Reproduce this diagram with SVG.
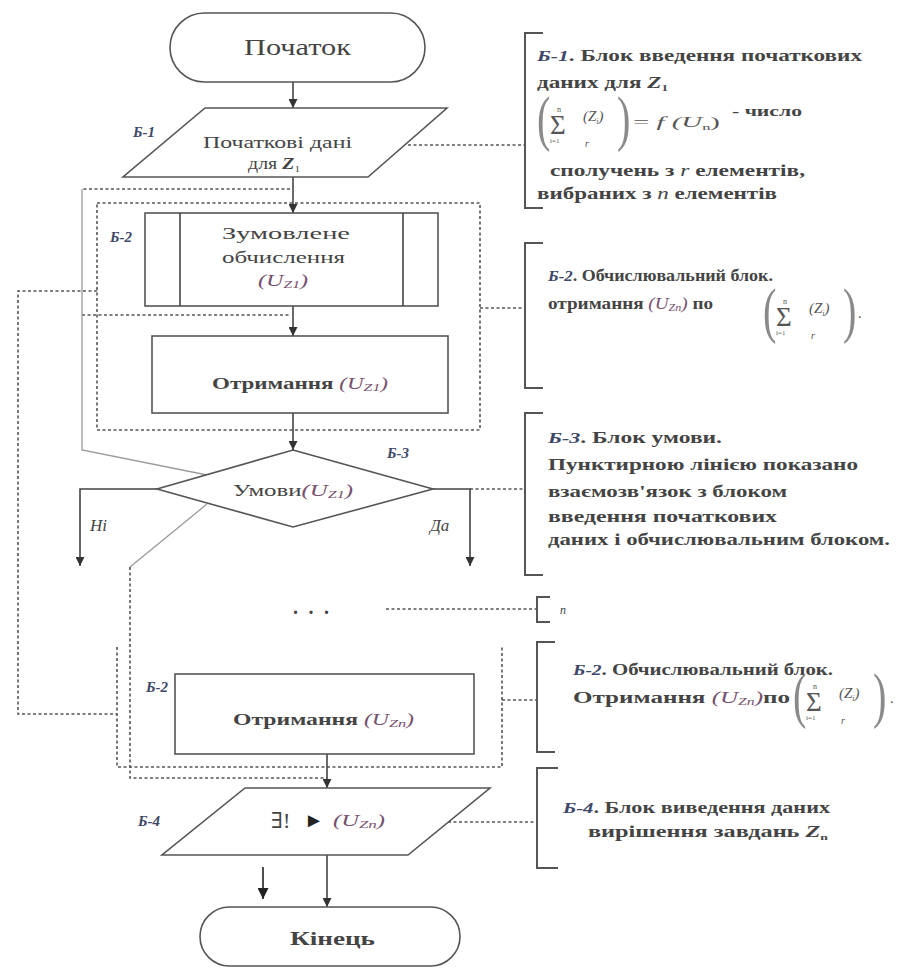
<svg xmlns="http://www.w3.org/2000/svg" xmlns:xlink="http://www.w3.org/1999/xlink" width="900" height="971" viewBox="0 0 900 971">
<style>
.t{font-family:"Liberation Serif","DejaVu Serif",serif;fill:#444}
.b{font-weight:bold}
.i{font-style:italic}
.lbl{font-family:"Liberation Serif","DejaVu Serif",serif;font-style:italic;font-weight:bold;fill:#3d4868;font-size:15px}
.u{fill:#76506e;font-style:italic}
.shape{fill:#fff;stroke:#555;stroke-width:1.6}
.ln{fill:none;stroke:#444;stroke-width:1.6}
.dash{fill:none;stroke:#555;stroke-width:1.6;stroke-dasharray:3 2.5}
.gray{fill:none;stroke:#9a9a9a;stroke-width:1.3}
.br{fill:none;stroke:#555;stroke-width:2}
</style>
<defs>
<marker id="ah" viewBox="0 0 10 10" refX="10" refY="5" markerWidth="9" markerHeight="9" markerUnits="userSpaceOnUse" orient="auto"><path d="M0,0 L10,5 L0,10 z" fill="#333"/></marker>
<marker id="ah2" viewBox="0 0 10 10" refX="10" refY="5" markerWidth="11" markerHeight="11" markerUnits="userSpaceOnUse" orient="auto"><path d="M0,0 L10,5 L0,10 z" fill="#222"/></marker>
<g id="frm" style="font-family:'Liberation Serif','DejaVu Serif',serif;fill:#555">
<text x="0" y="15" font-size="62" transform="scale(0.65,1)" style="fill:#8a8a8a">(</text>
<text x="13" y="10" font-size="27">Σ</text>
<text x="20" y="-12" font-size="8">n</text>
<text x="13" y="19" font-size="7">i=1</text>
<text x="46" y="-3" font-size="15" font-style="italic">(Z<tspan font-size="8" dy="3">i</tspan><tspan dy="-3">)</tspan></text>
<text x="48" y="23" font-size="10" font-style="italic">r</text>
<text x="123" y="15" font-size="62" transform="scale(0.65,1)" style="fill:#8a8a8a">)</text>
</g>
</defs>
<rect width="900" height="971" fill="#fff"/>

<g id="connectors">
<path class="dash" d="M290,189 H82"/>
<path class="dash" d="M82,315 H290"/>
<path class="gray" d="M82,189 V450 L207,475"/>
<path class="gray" d="M207,504 L130,567"/>
<path class="dash" d="M130,567 V778 H327"/>
<rect class="dash" x="97" y="203" width="383" height="227"/>
<path class="dash" d="M97,291 H18 V714 H117"/>
<path class="dash" d="M117,647 V767 H502 V647"/>
<path class="dash" d="M408,145 H525"/>
<path class="dash" d="M480,308 H525"/>
<path class="dash" d="M470,489 H525"/>
<path class="dash" d="M386,609 H537"/>
<path class="dash" d="M502,700 H537"/>
<path class="dash" d="M448,822 H537"/>
<line class="ln" x1="293" y1="82" x2="293" y2="108" marker-end="url(#ah)"/>
<line class="ln" x1="293" y1="177" x2="293" y2="213" marker-end="url(#ah)"/>
<line class="ln" x1="293" y1="306" x2="293" y2="336" marker-end="url(#ah)"/>
<line class="ln" x1="293" y1="413" x2="293" y2="450" marker-end="url(#ah)"/>
<polyline class="ln" points="157,489 80,489 80,566" marker-end="url(#ah)"/>
<polyline class="ln" points="433,489 470,489 470,566" marker-end="url(#ah)"/>
<line class="ln" x1="327" y1="754" x2="327" y2="788" marker-end="url(#ah)"/>
<line class="ln" x1="327" y1="855" x2="327" y2="907" marker-end="url(#ah)"/>
<line class="ln" x1="263" y1="867" x2="263" y2="899" marker-end="url(#ah2)" style="stroke:#222"/>
<text class="i t" x="90" y="531" font-size="17">Ні</text>
<text class="i t" x="430" y="531" font-size="17">Да</text>
<text class="t b" x="293" y="614" font-size="20" textLength="36" lengthAdjust="spacing">. . .</text>
</g>

<g id="start">
<rect class="shape" x="170" y="13" width="255" height="69" rx="34.5"/>
<text class="t" x="297.5" y="55" font-size="24" text-anchor="middle" textLength="107" lengthAdjust="spacingAndGlyphs">Початок</text>
</g>

<g id="b1">
<text class="lbl" x="133" y="137">Б-1</text>
<polygon class="shape" points="205,108 447,108 368,177 123,177"/>
<text class="t" x="277.5" y="148" font-size="16" text-anchor="middle" textLength="149" lengthAdjust="spacingAndGlyphs">Початкові дані</text>
<text class="t" x="274" y="169" font-size="16" text-anchor="middle" textLength="52" lengthAdjust="spacingAndGlyphs">для <tspan class="i b">Z</tspan><tspan font-size="9" dy="3">1</tspan></text>
</g>

<g id="b2">
<text class="lbl" x="110" y="242">Б-2</text>
<rect class="shape" x="145" y="213" width="293" height="93"/>
<line class="ln" x1="180" y1="213" x2="180" y2="306"/>
<line class="ln" x1="403" y1="213" x2="403" y2="306"/>
<text class="t" x="286" y="239" font-size="17" text-anchor="middle" textLength="128" lengthAdjust="spacingAndGlyphs">Зумовлене</text>
<text class="t" x="283.5" y="263" font-size="17" text-anchor="middle" textLength="123" lengthAdjust="spacingAndGlyphs">обчислення</text>
<text class="t u" x="283" y="286" font-size="17" text-anchor="middle" textLength="50" lengthAdjust="spacingAndGlyphs">(U<tspan font-size="11" dy="2">Z1</tspan><tspan dy="-2">)</tspan></text>
</g>

<g id="b2b">
<rect class="shape" x="152" y="336" width="296" height="77"/>
<text class="t" x="300" y="389" font-size="16" text-anchor="middle" textLength="176" lengthAdjust="spacingAndGlyphs"><tspan class="b">Отримання </tspan><tspan class="u">(U</tspan><tspan class="u" font-size="11" dy="2">Z1</tspan><tspan class="u" dy="-2">)</tspan></text>
</g>

<g id="b3">
<polygon class="shape" points="293,450 433,489 293,527 157,489"/>
<text class="lbl" x="387" y="458">Б-3</text>
<text class="t" x="293" y="496" font-size="17" text-anchor="middle" textLength="120" lengthAdjust="spacingAndGlyphs">Умови<tspan class="u">(U</tspan><tspan class="u" font-size="11" dy="2">Z1</tspan><tspan class="u" dy="-2">)</tspan></text>
</g>

<g id="b2n">
<text class="lbl" x="146" y="692">Б-2</text>
<rect class="shape" x="175" y="674" width="299" height="80"/>
<text class="t" x="323.5" y="725" font-size="16" text-anchor="middle" textLength="181" lengthAdjust="spacingAndGlyphs"><tspan class="b">Отримання </tspan><tspan class="u">(U</tspan><tspan class="u" font-size="11" dy="2">Zn</tspan><tspan class="u" dy="-2">)</tspan></text>
</g>

<g id="b4">
<text class="lbl" x="138" y="826">Б-4</text>
<polygon class="shape" points="245,788 490,788 408,855 162,855"/>
<text class="t" x="271" y="828" font-size="22">∃!</text>
<text class="t" x="304" y="827" font-size="20" style="fill:#222">►</text>
<text class="t u" x="333" y="826" font-size="16" textLength="52" lengthAdjust="spacingAndGlyphs">(U<tspan font-size="11" dy="2">Zn</tspan><tspan dy="-2">)</tspan></text>
</g>

<g id="end">
<rect class="shape" x="200" y="907" width="260" height="59" rx="29.5"/>
<text class="t b" x="332.5" y="945" font-size="18" text-anchor="middle" textLength="85" lengthAdjust="spacingAndGlyphs">Кінець</text>
</g>

<g id="note1">
<path class="br" d="M543,33 H525 V208 H543"/>
<text class="t b" x="537" y="61" font-size="16" textLength="325" lengthAdjust="spacingAndGlyphs"><tspan class="lbl">Б-1</tspan>. Блок введення початкових</text>
<text class="t b" x="537" y="88" font-size="16" textLength="131" lengthAdjust="spacingAndGlyphs">даних для <tspan class="i">Z</tspan><tspan font-size="9" dy="3">1</tspan></text>
<use xlink:href="#frm" href="#frm" transform="translate(537,124)"/>
<text class="t" x="633" y="127" font-size="14" textLength="87" lengthAdjust="spacingAndGlyphs" style="fill:#555">= <tspan class="i">f (U</tspan><tspan font-size="8" dy="3">n</tspan><tspan dy="-3">)</tspan></text>
<text class="t b" x="732" y="116" font-size="14" textLength="70" lengthAdjust="spacingAndGlyphs">- число</text>
<text class="t b" x="550" y="176" font-size="16" textLength="255" lengthAdjust="spacingAndGlyphs">сполучень з <tspan class="i" style="font-weight:normal">r</tspan> елементів,</text>
<text class="t b" x="537" y="199" font-size="16" textLength="240" lengthAdjust="spacingAndGlyphs">вибраних з <tspan class="i" style="font-weight:normal">n</tspan> елементів</text>
</g>

<g id="note2">
<path class="br" d="M543,243 H525 V388 H543"/>
<text class="t b" x="548" y="281" font-size="16" textLength="225" lengthAdjust="spacingAndGlyphs"><tspan class="lbl">Б-2</tspan>. Обчислювальний блок.</text>
<text class="t b" x="548" y="309" font-size="16" textLength="165" lengthAdjust="spacingAndGlyphs">отримання  <tspan class="u" style="font-weight:normal">(U</tspan><tspan class="u" style="font-weight:normal" font-size="10" dy="2">Zn</tspan><tspan class="u" style="font-weight:normal" dy="-2">)</tspan> по</text>
<use xlink:href="#frm" href="#frm" transform="translate(763,316)"/>
<text class="t" x="858" y="318" font-size="14">.</text>
</g>

<g id="note3">
<path class="br" d="M543,413 H525 V575 H543"/>
<text class="t b" x="548" y="443" font-size="16" textLength="174" lengthAdjust="spacingAndGlyphs"><tspan class="lbl">Б-3</tspan>. Блок умови.</text>
<text class="t b" x="548" y="470" font-size="16" textLength="310" lengthAdjust="spacingAndGlyphs">Пунктирною лінією показано</text>
<text class="t b" x="548" y="497" font-size="16" textLength="239" lengthAdjust="spacingAndGlyphs">взаємозв'язок з блоком</text>
<text class="t b" x="548" y="522" font-size="16" textLength="229" lengthAdjust="spacingAndGlyphs">введення початкових</text>
<text class="t b" x="548" y="545" font-size="16" textLength="342" lengthAdjust="spacingAndGlyphs">даних і обчислювальним блоком.</text>
</g>

<g id="noteN">
<path class="br" d="M550,597 H537 V622 H550"/>
<text class="t i" x="560" y="614" font-size="12">n</text>
</g>

<g id="note4">
<path class="br" d="M555,642 H537 V752 H555"/>
<text class="t b" x="573" y="675" font-size="16" textLength="260" lengthAdjust="spacingAndGlyphs"><tspan class="lbl">Б-2</tspan>. Обчислювальний блок.</text>
<text class="t b" x="573" y="703" font-size="16" textLength="217" lengthAdjust="spacingAndGlyphs">Отримання  <tspan class="u" style="font-weight:normal">(U</tspan><tspan class="u" style="font-weight:normal" font-size="10" dy="2">Zn</tspan><tspan class="u" style="font-weight:normal" dy="-2">)</tspan>по</text>
<use xlink:href="#frm" href="#frm" transform="translate(793,701)"/>
<text class="t" x="890" y="703" font-size="14">.</text>
</g>

<g id="note5">
<path class="br" d="M558,768 H537 V868 H558"/>
<text class="t b" x="563" y="813" font-size="16" textLength="267" lengthAdjust="spacingAndGlyphs"><tspan class="lbl">Б-4</tspan>. Блок виведення даних</text>
<text class="t b" x="588" y="837" font-size="16" textLength="240" lengthAdjust="spacingAndGlyphs">вирішення завдань  <tspan class="i">Z</tspan><tspan font-size="9" dy="3">n</tspan></text>
</g>
</svg>
